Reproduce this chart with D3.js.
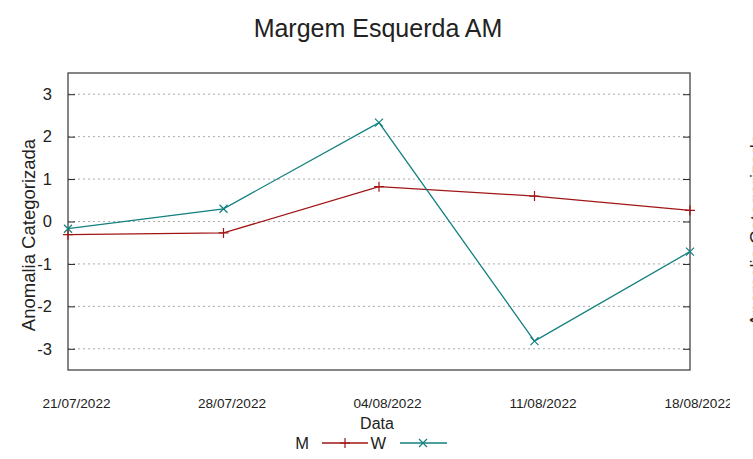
<!DOCTYPE html>
<html><head><meta charset="utf-8">
<script src="https://cdn.jsdelivr.net/npm/d3@7"></script>
<style>body{margin:0;background:#fff}svg{display:block}text{font-family:"Liberation Sans",Arial,sans-serif;fill:#222}</style>
</head><body><svg id="c" width="753" height="459"></svg>
<script>
const dates = ["21/07/2022","28/07/2022","04/08/2022","11/08/2022","18/08/2022"];
const seriesM = [-0.31, -0.27, 0.82, 0.60, 0.26];
const seriesW = [-0.17, 0.30, 2.33, -2.82, -0.71];
const yTicks = [-3,-2,-1,0,1,2,3];
const colorM = "#a01616";
const colorW = "#12807f";

const svg = d3.select("#c");
const L=68,R=690,T=73,B=370;
const x = d3.scalePoint().domain(dates).range([L,R]);
const y = d3.scaleLinear().domain([-3.5,3.5]).range([B,T]);

svg.append("defs").append("clipPath").attr("id","xclip")
  .append("rect").attr("x",0).attr("y",0).attr("width",730).attr("height",459);

// grid
svg.append("g").selectAll("line").data(yTicks).join("line")
  .attr("x1",L).attr("x2",R).attr("y1",d=>y(d)).attr("y2",d=>y(d))
  .attr("stroke","#aaa").attr("stroke-width",1).attr("stroke-dasharray","2,3");

// axes
const yl = svg.append("g").attr("transform",`translate(${L},0)`)
  .call(d3.axisLeft(y).tickValues(yTicks).tickSize(-7).tickPadding(16).tickFormat(d=>String(d)));
const yr = svg.append("g").attr("transform",`translate(${R},0)`)
  .call(d3.axisRight(y).tickValues(yTicks).tickSize(-7).tickFormat(""));
[yl,yr].forEach(g=>{g.select(".domain").remove();g.selectAll("line").attr("stroke","#222");});
yl.selectAll("text").attr("font-size",16.5).attr("fill","#222").attr("font-family","Liberation Sans, Arial, sans-serif");

const xa = svg.append("g").attr("transform",`translate(0,${B})`).attr("clip-path","url(#xclip)")
  .call(d3.axisBottom(x).tickSize(0).tickPadding(28));
xa.select(".domain").remove();
xa.selectAll("text").attr("font-size",13.6).attr("dx",8).attr("fill","#222").attr("font-family","Liberation Sans, Arial, sans-serif");

svg.append("rect").attr("x",L).attr("y",T).attr("width",R-L).attr("height",B-T)
  .attr("fill","none").attr("stroke","#444").attr("stroke-width",1.3);

// lines
const line = d3.line().x((d,i)=>x(dates[i])).y(d=>y(d));
svg.append("path").datum(seriesM).attr("d",line).attr("fill","none").attr("stroke",colorM).attr("stroke-width",1.3);
svg.append("path").datum(seriesW).attr("d",line).attr("fill","none").attr("stroke",colorW).attr("stroke-width",1.3);

function plus(g,cx,cy,c){g.append("path").attr("d",`M${cx-5},${cy}H${cx+5}M${cx},${cy-5}V${cy+5}`).attr("stroke",c).attr("stroke-width",1.2);}
function cross(g,cx,cy,c){g.append("path").attr("d",`M${cx-4},${cy-4}L${cx+4},${cy+4}M${cx-4},${cy+4}L${cx+4},${cy-4}`).attr("stroke",c).attr("stroke-width",1.2);}
seriesM.forEach((v,i)=>plus(svg,x(dates[i]),y(v),colorM));
seriesW.forEach((v,i)=>cross(svg,x(dates[i]),y(v),colorW));

// titles
svg.append("text").attr("x",378).attr("y",37).attr("text-anchor","middle").attr("font-size",25).text("Margem Esquerda AM");
svg.append("text").attr("x",377).attr("y",429).attr("text-anchor","middle").attr("font-size",16).text("Data");
svg.append("text").attr("transform","translate(35,235) rotate(-90)").attr("text-anchor","middle").attr("font-size",18.5).text("Anomalia Categorizada");
svg.append("text").attr("transform","translate(763,230) rotate(-90)").attr("text-anchor","middle").attr("font-size",18.5).text("Anomalia Categorizada");

// legend
const ly=443;
svg.append("text").attr("x",309).attr("y",ly+6).attr("text-anchor","end").attr("font-size",16.5).text("M");
svg.append("line").attr("x1",322).attr("x2",368).attr("y1",ly).attr("y2",ly).attr("stroke",colorM).attr("stroke-width",1.3);
plus(svg,345,ly,colorM);
svg.append("text").attr("x",386).attr("y",ly+6).attr("text-anchor","end").attr("font-size",16.5).text("W");
svg.append("line").attr("x1",400).attr("x2",447).attr("y1",ly).attr("y2",ly).attr("stroke",colorW).attr("stroke-width",1.3);
cross(svg,423,ly,colorW);
</script></body></html>
